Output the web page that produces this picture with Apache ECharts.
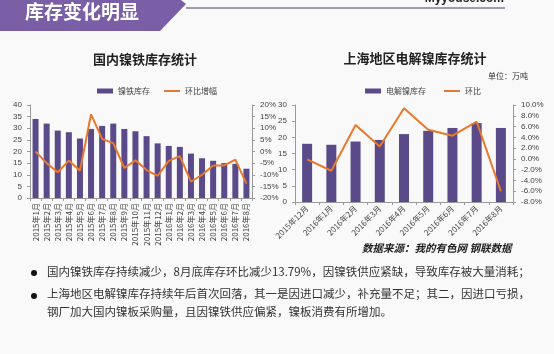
<!DOCTYPE html>
<html>
<head>
<meta charset="utf-8">
<script src="https://cdn.jsdelivr.net/npm/echarts@6/dist/echarts.min.js"></script>
<style>
  html, body { margin: 0; padding: 0; background: #f9f9f9; }
  #chart { width: 554px; height: 354px; }
</style>
</head>
<body>
<div id="chart"></div>
<script>
// 国内镍铁库存 (万吨) 与环比
const niFeMonths = [
  "2015年1月", "2015年2月", "2015年3月", "2015年4月", "2015年5月",
  "2015年6月", "2015年7月", "2015年8月", "2015年9月", "2015年10月",
  "2015年11月", "2015年12月", "2016年1月", "2016年2月", "2016年3月",
  "2016年4月", "2016年5月", "2016年6月", "2016年7月", "2016年8月"
];
const niFeStock = [34, 32, 29, 28.3, 25.6, 29.7, 31, 32, 29.7, 28.7, 26.6, 23.5, 22.4, 22, 19.1, 17.1, 16, 15, 14.7, 12.6];
const niFeMoM = [0, -5, -8.9, -3.9, -8.3, 16, 5.4, 3.6, -7.1, -3.8, -8, -10.5, -4, -2, -13, -10, -6, -6, -3.5, -13.79];

// 上海地区电解镍库存 (万吨) 与环比
const shMonths = ["2015年12月", "2016年1月", "2016年2月", "2016年3月", "2016年4月", "2016年5月", "2016年6月", "2016年7月", "2016年8月"];
const shStock = [18, 17.7, 18.7, 19.2, 21, 22, 22.9, 24.4, 22.9];
const shMoM = [-0.1, -2.2, 6.3, 2.3, 9.4, 5.4, 4.3, 6.9, -6];

const barColor = "#5a4a8a";
const lineColor = "#e8792b";
const axisColor = "#9a9a9a";
const labelColor = "#444";
const cnFont = "'Noto Sans CJK SC', sans-serif";
// thin line icon for the line series in the legends
const lineIcon = "path://M0,0h16v2h-16z";

const axisCommon = {
  axisLine: { show: true, lineStyle: { color: axisColor } },
  axisTick: { show: true, lineStyle: { color: axisColor }, length: 3 },
  axisLabel: { color: labelColor, fontSize: 8, fontFamily: "Arial, sans-serif" },
  splitLine: { show: false },
};

const chart = echarts.init(document.getElementById("chart"));

chart.setOption({
  backgroundColor: "#f9f9f9",
  animation: false,
  textStyle: { fontFamily: cnFont },
  title: [
    {
      text: "国内镍铁库存统计",
      left: 140, top: 48, textAlign: "center",
      textStyle: { fontSize: 13, fontWeight: "bold", color: "#222", fontFamily: cnFont },
    },
    {
      text: "上海地区电解镍库存统计",
      left: 410, top: 47, textAlign: "center",
      textStyle: { fontSize: 13, fontWeight: "bold", color: "#222", fontFamily: cnFont },
    },
  ],
  legend: [
    {
      data: [{ name: "镍铁库存", icon: "rect" }, { name: "环比增幅", icon: lineIcon }],
      left: 92, top: 82, itemWidth: 16, itemHeight: 5, itemGap: 14,
      textStyle: { fontSize: 8, color: labelColor },
    },
    {
      data: [{ name: "电解镍库存", icon: "rect" }, { name: "环比", icon: lineIcon }],
      left: 360, top: 82, itemWidth: 16, itemHeight: 5, itemGap: 18,
      textStyle: { fontSize: 8, color: labelColor },
    },
  ],
  grid: [
    { left: 30, right: 302, top: 105, bottom: 156 },
    { left: 295, right: 41, top: 105, bottom: 152 },
  ],
  xAxis: [
    {
      ...axisCommon, type: "category", gridIndex: 0, data: niFeMonths,
      axisLabel: { ...axisCommon.axisLabel, rotate: 90, interval: 0, fontFamily: cnFont, fontSize: 8, margin: 5 },
    },
    {
      ...axisCommon, type: "category", gridIndex: 1, data: shMonths,
      axisLabel: { ...axisCommon.axisLabel, rotate: 45, interval: 0, fontFamily: cnFont, fontSize: 8, margin: 5 },
    },
  ],
  yAxis: [
    { ...axisCommon, type: "value", gridIndex: 0, min: 0, max: 40, interval: 5 },
    {
      ...axisCommon, type: "value", gridIndex: 0, min: -20, max: 20, interval: 5, position: "right",
      axisLabel: { ...axisCommon.axisLabel, formatter: "{value}%" },
    },
    { ...axisCommon, type: "value", gridIndex: 1, min: 0, max: 30, interval: 5 },
    {
      ...axisCommon, type: "value", gridIndex: 1, min: -8, max: 10, interval: 2, position: "right",
      axisLabel: { ...axisCommon.axisLabel, formatter: (v) => v.toFixed(1) + "%" },
    },
  ],
  series: [
    {
      name: "镍铁库存", type: "bar", xAxisIndex: 0, yAxisIndex: 0,
      data: niFeStock, barWidth: 6, itemStyle: { color: barColor },
    },
    {
      name: "环比增幅", type: "line", xAxisIndex: 0, yAxisIndex: 1,
      data: niFeMoM, symbol: "none", lineStyle: { color: lineColor, width: 2 }, itemStyle: { color: lineColor },
    },
    {
      name: "电解镍库存", type: "bar", xAxisIndex: 1, yAxisIndex: 2,
      data: shStock, barWidth: 10, itemStyle: { color: barColor },
    },
    {
      name: "环比", type: "line", xAxisIndex: 1, yAxisIndex: 3,
      data: shMoM, symbol: "none", lineStyle: { color: lineColor, width: 2 }, itemStyle: { color: lineColor },
    },
  ],
  graphic: [
    // header banner
    {
      type: "polygon",
      shape: { points: [[0, 0], [181, 0], [186, 4], [160, 31], [0, 31]] },
      style: { fill: "#7a5ea6" },
    },
    {
      type: "line",
      shape: { x1: 186, y1: 8, x2: 505, y2: 8 },
      style: { stroke: "#4a4060", lineWidth: 1 },
    },
    {
      type: "text", left: 25, top: 2,
      style: { text: "库存变化明显", fill: "#fff", font: "bold 19px 'Noto Sans CJK SC'" },
    },
    {
      type: "text", right: 50, top: -7,
      style: { text: "Myyouse.com", fill: "#222", font: "bold 12px Arial" },
    },
    {
      type: "text", left: 488, top: 72,
      style: { text: "单位：万吨", fill: "#333", font: "8px 'Noto Sans CJK SC'" },
    },
    {
      type: "text", left: 362, top: 243,
      style: { text: "数据来源：我的有色网 钢联数据", fill: "#222", font: "bold italic 10.5px 'Noto Sans CJK SC'" },
    },
    // bullets
    { type: "circle", shape: { cx: 34, cy: 273, r: 3 }, style: { fill: "#111" } },
    { type: "circle", shape: { cx: 34, cy: 296, r: 3 }, style: { fill: "#111" } },
    {
      type: "text", left: 47, top: 266,
      style: { text: "国内镍铁库存持续减少，8月底库存环比减少13.79%，因镍铁供应紧缺，导致库存被大量消耗；", fill: "#333", font: "11.5px 'Noto Sans CJK SC'" },
    },
    {
      type: "text", left: 47, top: 288,
      style: { text: "上海地区电解镍库存持续年后首次回落，其一是因进口减少，补充量不足；其二，因进口亏损，", fill: "#333", font: "11.5px 'Noto Sans CJK SC'" },
    },
    {
      type: "text", left: 47, top: 306,
      style: { text: "钢厂加大国内镍板采购量，且因镍铁供应偏紧，镍板消费有所增加。", fill: "#333", font: "11.5px 'Noto Sans CJK SC'" },
    },
  ],
});
</script>
</body>
</html>
